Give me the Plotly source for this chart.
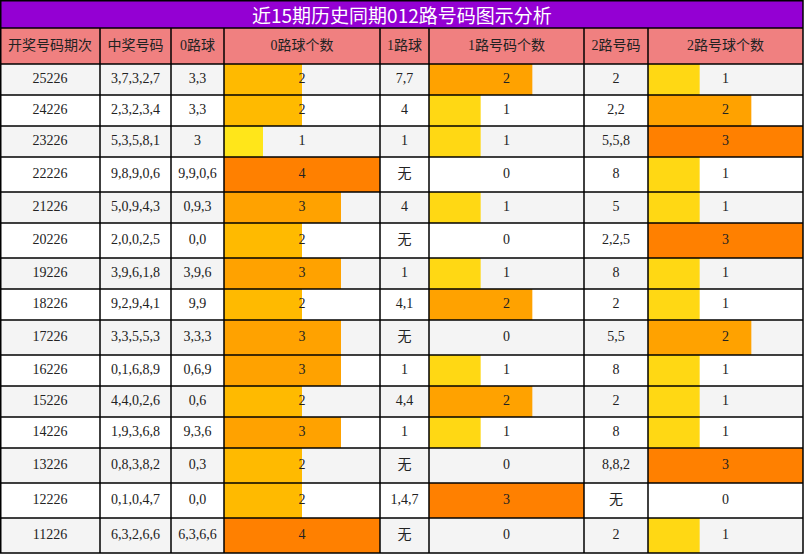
import plotly.graph_objects as go

# data
title = "近15期历史同期012路号码图示分析"
headers = ["开奖号码期次", "中奖号码", "0路球", "0路球个数", "1路球", "1路号码个数", "2路号码", "2路号球个数"]
periods = ["25226", "24226", "23226", "22226", "21226", "20226", "19226", "18226",
           "17226", "16226", "15226", "14226", "13226", "12226", "11226"]
numbers = ["3,7,3,2,7", "2,3,2,3,4", "5,3,5,8,1", "9,8,9,0,6", "5,0,9,4,3", "2,0,0,2,5",
           "3,9,6,1,8", "9,2,9,4,1", "3,3,5,5,3", "0,1,6,8,9", "4,4,0,2,6", "1,9,3,6,8",
           "0,8,3,8,2", "0,1,0,4,7", "6,3,2,6,6"]
road0 = ["3,3", "3,3", "3", "9,9,0,6", "0,9,3", "0,0", "3,9,6", "9,9", "3,3,3",
         "0,6,9", "0,6", "9,3,6", "0,3", "0,0", "6,3,6,6"]
road0_cnt = [2, 2, 1, 4, 3, 2, 3, 2, 3, 3, 2, 3, 2, 2, 4]
road1 = ["7,7", "4", "1", "无", "4", "无", "1", "4,1", "无", "1", "4,4", "1", "无", "1,4,7", "无"]
road1_cnt = [2, 1, 1, 0, 1, 0, 1, 2, 0, 1, 2, 1, 0, 3, 0]
road2 = ["2", "2,2", "5,5,8", "8", "5", "2,2,5", "8", "2", "5,5", "8", "2", "8", "8,8,2", "无", "2"]
road2_cnt = [1, 2, 3, 1, 1, 3, 1, 1, 2, 1, 1, 1, 3, 0, 1]

# layout in pixels
col_edges = [0, 100, 171, 224, 380, 429, 584, 648, 803]
title_h = 28
head_h = 36
row_h = [35 if "无" in (road1[i], road2[i]) else 31 for i in range(len(periods))]

tops = []
y = title_h + head_h
for h in row_h:
    tops.append(y)
    y += h
bottom = y
centers = [t + h / 2 for t, h in zip(tops, row_h)]

colors0 = {1: "#FFE61A", 2: "#FFBA00", 3: "#FFA200", 4: "#FF8000"}
colors12 = {1: "#FFD814", 2: "#FFA200", 3: "#FF8000"}

fig = go.Figure()
shapes = []

# title bar and header background
shapes.append(dict(type="rect", x0=0, x1=803, y0=0, y1=title_h, fillcolor="#9400D3",
                   line=dict(width=0), layer="below"))
shapes.append(dict(type="rect", x0=0, x1=803, y0=title_h, y1=title_h + head_h,
                   fillcolor="#F08080", line=dict(width=0), layer="below"))
for i, (t, h) in enumerate(zip(tops, row_h)):
    shapes.append(dict(type="rect", x0=0, x1=803, y0=t, y1=t + h,
                       fillcolor="#F4F4F4" if i % 2 == 0 else "#FFFFFF",
                       line=dict(width=0), layer="below"))

# bars inside cells
for col, cnt, cmap in [(3, road0_cnt, colors0), (5, road1_cnt, colors12), (7, road2_cnt, colors12)]:
    left = col_edges[col]
    width = col_edges[col + 1] - left
    mx = max(cnt)
    fig.add_trace(go.Bar(
        orientation="h", y=centers, x=[v / mx * width for v in cnt], base=left,
        width=row_h, marker=dict(color=[cmap.get(v, "#FFFFFF") for v in cnt], line=dict(width=0)),
        hoverinfo="skip", showlegend=False))

# grid lines
lw = 1.5
for yy in [title_h, title_h + head_h] + tops[1:]:
    shapes.append(dict(type="line", x0=0, x1=803, y0=yy, y1=yy, line=dict(color="black", width=lw)))
for xx in col_edges[1:-1]:
    shapes.append(dict(type="line", x0=xx, x1=xx, y0=title_h, y1=bottom, line=dict(color="black", width=lw)))
shapes.append(dict(type="rect", x0=0.75, x1=803, y0=0.75, y1=bottom, line=dict(color="black", width=lw)))

# text
font_fam = "Liberation Serif, Noto Sans CJK SC, serif"
mids = [(col_edges[i] + col_edges[i + 1]) / 2 for i in range(len(headers))]
fig.add_trace(go.Scatter(x=mids, y=[title_h + head_h / 2] * len(headers), text=headers,
                         mode="text", textfont=dict(family=font_fam, size=14, color="#222222"),
                         hoverinfo="skip", showlegend=False))
columns = [periods, numbers, road0, [str(v) for v in road0_cnt], road1,
           [str(v) for v in road1_cnt], road2, [str(v) for v in road2_cnt]]
for i, vals in enumerate(columns):
    fig.add_trace(go.Scatter(x=[mids[i]] * len(vals), y=centers, text=vals, mode="text",
                             textfont=dict(family=font_fam, size=14, color="#222222"),
                             hoverinfo="skip", showlegend=False))

fig.add_annotation(x=401.5, y=title_h / 2, text=title, showarrow=False,
                   font=dict(family="Noto Sans CJK SC, sans-serif", size=19, color="white"))

fig.update_layout(
    width=804, height=554, margin=dict(l=0, r=0, t=0, b=0),
    plot_bgcolor="white", paper_bgcolor="white", shapes=shapes, barmode="overlay",
    xaxis=dict(range=[0, 804], visible=False, fixedrange=True),
    yaxis=dict(range=[554, 0], visible=False, fixedrange=True),
)

# page has a default 8px body margin, drop it
fig.write_html("out.html", config={"displayModeBar": False},
               post_script="document.body.style.margin='0';document.body.style.overflow='hidden';")
